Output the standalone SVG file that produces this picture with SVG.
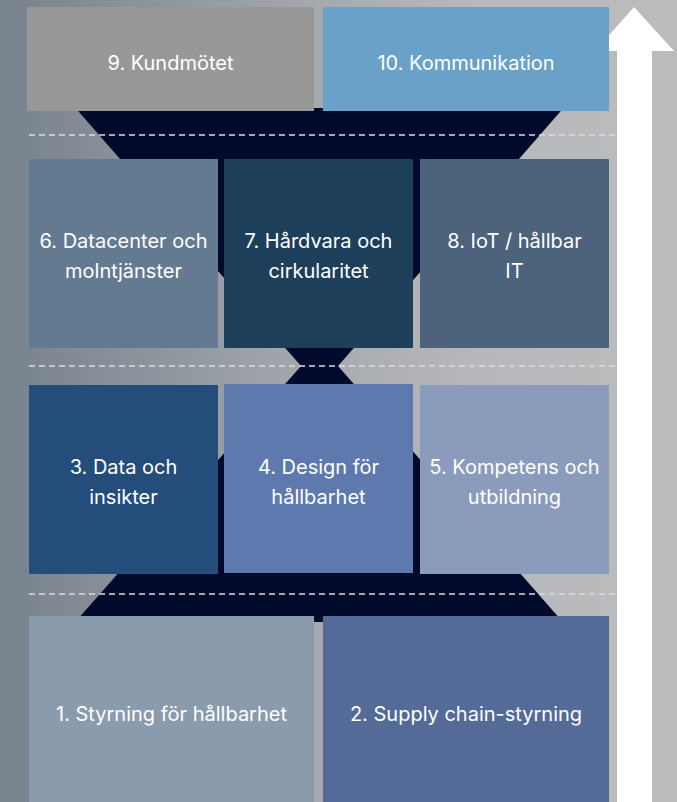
<svg xmlns="http://www.w3.org/2000/svg" width="677" height="802" viewBox="0 0 677 802">
  <defs>
    <linearGradient id="bg" x1="0" y1="0" x2="1" y2="0">
      <stop offset="0" stop-color="#7a848f"/>
      <stop offset="0.04" stop-color="#7b8590"/>
      <stop offset="0.2" stop-color="#8b929b"/>
      <stop offset="0.45" stop-color="#a4a8ad"/>
      <stop offset="0.7" stop-color="#b7b8bb"/>
      <stop offset="1" stop-color="#bbbcbe"/>
    </linearGradient>
  </defs>
  <style>
    .lbl { font-family: Inter, "Liberation Sans", sans-serif; font-size: 20px; font-weight: 400; fill: #ffffff; text-anchor: middle; }
    .dash { stroke: #dcdddf; stroke-width: 1.6; stroke-dasharray: 6 4; fill: none; }
    .dark { fill: #010a2b; }
  </style>
  <rect x="0" y="0" width="677" height="802" fill="url(#bg)"/>

  <g id="hourglass">
    <polygon class="dark" points="75.5,108 563.5,108 338,366 301,366"/>
    <polygon class="dark" points="301,366 338,366 562.8,622 75.2,622"/>
  </g>

  <g id="connectors">
    <line class="dash" x1="29" y1="135" x2="617" y2="135"/>
    <line class="dash" x1="29" y1="366" x2="617" y2="366"/>
    <line class="dash" x1="29" y1="594" x2="617" y2="594"/>
    <polygon id="arrow" points="634,7 674,51 652,51 652,802 617,802 617,51 595,51" fill="#ffffff"/>
  </g>

  <g id="n9"><rect x="27" y="7" width="287" height="104" fill="#989898"/><text class="lbl" x="170.5" y="70">9. Kundmötet</text></g>
  <g id="n10"><rect x="323" y="7" width="286" height="104" fill="#69a1c8"/><text class="lbl" x="466" y="70">10. Kommunikation</text></g>

  <g id="n6"><rect x="29" y="159" width="189" height="189" fill="#647a90"/><text class="lbl" x="123.5" y="248">6. Datacenter och</text><text class="lbl" x="123.5" y="278">molntjänster</text></g>
  <g id="n7"><rect x="224" y="159" width="189" height="189" fill="#1e3f5a"/><text class="lbl" x="318.5" y="248">7. Hårdvara och</text><text class="lbl" x="318.5" y="278">cirkularitet</text></g>
  <g id="n8"><rect x="420" y="159" width="189" height="189" fill="#4d637c"/><text class="lbl" x="514.5" y="248">8. IoT / hållbar</text><text class="lbl" x="514.5" y="278">IT</text></g>

  <g id="n3"><rect x="29" y="385" width="189" height="189" fill="#244d7b"/><text class="lbl" x="123.5" y="474">3. Data och</text><text class="lbl" x="123.5" y="504">insikter</text></g>
  <g id="n4"><rect x="224" y="384" width="189" height="189" fill="#5d79ae"/><text class="lbl" x="318.5" y="474">4. Design för</text><text class="lbl" x="318.5" y="504">hållbarhet</text></g>
  <g id="n5"><rect x="420" y="385" width="189" height="189" fill="#8b9bbb"/><text class="lbl" x="514.5" y="474">5. Kompetens och</text><text class="lbl" x="514.5" y="504">utbildning</text></g>

  <g id="n1"><rect x="29" y="616" width="285" height="186" fill="#8b9bae"/><text class="lbl" x="171.5" y="721">1. Styrning för hållbarhet</text></g>
  <g id="n2"><rect x="323" y="616" width="286" height="186" fill="#546b97"/><text class="lbl" x="466" y="721">2. Supply chain-styrning</text></g>
</svg>
